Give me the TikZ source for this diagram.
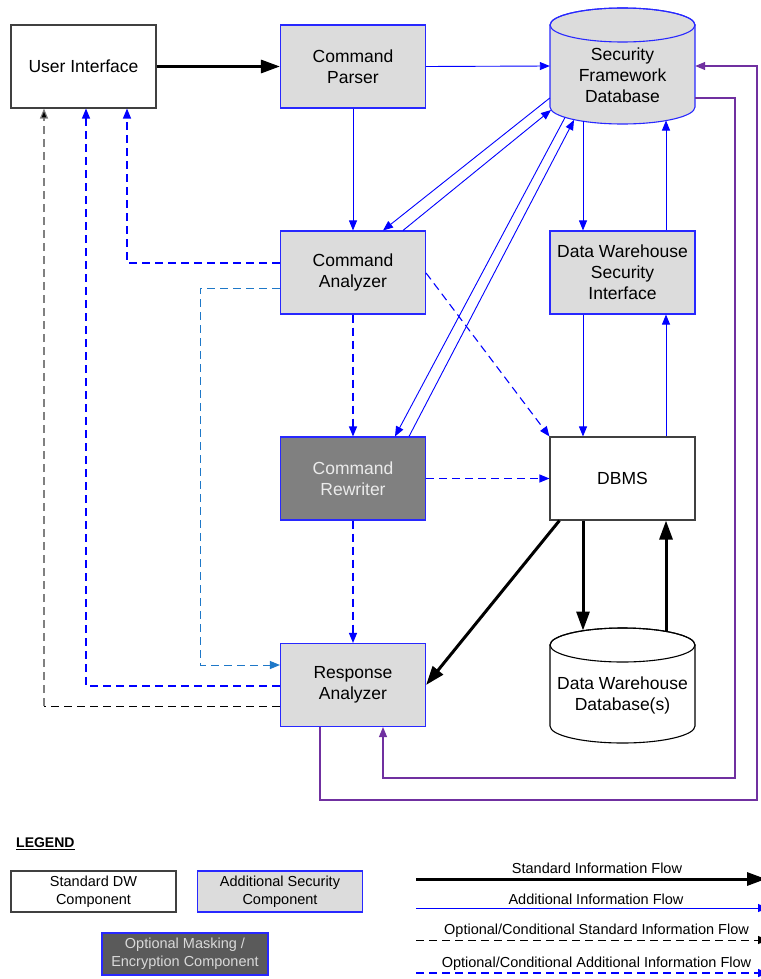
\documentclass[tikz,border=0pt]{standalone}
\usepackage{fontspec}
\setmainfont{Liberation Sans}
\usetikzlibrary{arrows.meta,calc}

\definecolor{boxgray}{RGB}{220,220,220}
\definecolor{rewgray}{RGB}{128,128,128}
\definecolor{maskgray}{RGB}{90,90,90}
\definecolor{edgeblue}{RGB}{40,40,255}
\definecolor{flowblue}{RGB}{0,0,255}
\definecolor{optcyan}{RGB}{30,120,200}
\definecolor{flowpurple}{RGB}{112,48,160}

\begin{document}
\begin{tikzpicture}[x=1pt,y=-1pt,
  comp/.style={draw=black!75, line width=1.1pt, fill=white,
    minimum width=145pt, minimum height=83pt, inner sep=0pt,
    align=center, font=\fontsize{17.5}{21}\selectfont},
  secbox/.style={comp, draw=edgeblue, fill=boxgray},
  maskbox/.style={comp, draw=edgeblue, fill=rewgray, text=white!92!black},
  lgbox/.style={comp, minimum width=165pt, minimum height=41pt,
    font=\fontsize{14.5}{18}\selectfont},
  lbl/.style={inner sep=0pt, font=\fontsize{14.5}{17}\selectfont},
  stdflow/.style={line width=3pt, -{Triangle[length=19pt,width=13pt]}},
  addflow/.style={draw=flowblue, line width=0.9pt, -{Triangle[length=10pt,width=8pt]}},
  optstd/.style={line width=1pt, dash pattern=on 8pt off 5pt, -{Triangle[length=10pt,width=8pt]}},
  optadd/.style={draw=flowblue, line width=1.1pt, dash pattern=on 8pt off 5pt,
    -{Triangle[length=10pt,width=8pt]}},
  purp/.style={draw=flowpurple, line width=1.1pt, -{Triangle[length=10pt,width=8pt]}}
]
\useasboundingbox (0,0) rectangle (760,979);

% ---------- components ----------
\node[comp]    (ui)       at (83.5,66.5)  {User Interface};
\node[secbox]  (parser)   at (353,66.5)   {Command\\Parser};
\node[secbox]  (analyzer) at (353,272.5)  {Command\\Analyzer};
\node[secbox]  (dwsi)     at (622.5,272.5){Data Warehouse\\Security\\Interface};
\node[maskbox] (rewriter) at (353,478.5)  {Command\\Rewriter};
\node[comp]    (dbms)     at (622.5,478.5){DBMS};
\node[secbox]  (resp)     at (353,685)    {Response\\Analyzer};

% security framework database (cylinder)
\filldraw[fill=boxgray, draw=edgeblue, line width=1.1pt]
  (550,25) -- (550,107) arc[start angle=180, end angle=360, x radius=72.5pt, y radius=17pt]
  -- (695,25) arc[start angle=0, end angle=180, x radius=72.5pt, y radius=17pt] -- cycle;
\draw[edgeblue, line width=1.1pt] (622.5,25) ellipse[x radius=72.5pt, y radius=17pt];
\node[minimum width=145pt, minimum height=82pt, inner sep=0pt] (sfd) at (622.5,66) {};
\node[align=center, font=\fontsize{17.5}{21}\selectfont] (sfdtext) at (622.5,75)
  {Security\\Framework\\Database};

% data warehouse database (cylinder)
\filldraw[fill=white, draw=black, line width=1.1pt]
  (550,645) -- (550,726) arc[start angle=180, end angle=360, x radius=72.5pt, y radius=17pt]
  -- (695,645) arc[start angle=0, end angle=180, x radius=72.5pt, y radius=17pt] -- cycle;
\draw[black, line width=1.1pt] (622.5,645) ellipse[x radius=72.5pt, y radius=17pt];
\node[align=center, font=\fontsize{17.5}{21}\selectfont] (dwdb) at (622.5,695)
  {Data Warehouse\\Database(s)};

% points on the cylinder rims
\coordinate (sfdA) at (551,110);
\coordinate (sfdB) at (565,117.5);
\coordinate (sfdC) at (574,120);
\coordinate (sfdD) at (583,121);
\coordinate (sfdE) at (666,120.5);
\coordinate (dwdbA) at (583,630.5);
\coordinate (dwdbB) at (666,631.5);

% ---------- standard flows ----------
\draw[stdflow] (ui.east) -- (parser.west);
\draw[stdflow] ($(dbms.south west)+(10,0)$) -- ($(resp.east)+(0,0)$);
\draw[stdflow] (dbms.south -| sfdD) -- (dwdbA);
\draw[stdflow] (dwdbB) -- (dbms.south -| sfdE);

% ---------- additional flows ----------
\draw[addflow] (parser.east) -- (sfd.west);
\draw[addflow] (parser.south) -- (analyzer.north);
\draw[addflow] ($(sfd.west)+(0,32)$) -- ($(analyzer.north)+(30,0)$);
\draw[addflow] ($(analyzer.north)+(50,0)$) -- (sfdA);
\draw[addflow] (sfdB) -- ($(rewriter.north)+(42,0)$);
\draw[addflow] ($(rewriter.north)+(56,0)$) -- (sfdC);
\draw[addflow] (sfdD) -- (dwsi.north -| sfdD);
\draw[addflow] (dwsi.north -| sfdE) -- (sfdE);
\draw[addflow] (dwsi.south -| sfdD) -- (dbms.north -| sfdD);
\draw[addflow] (dbms.north -| sfdE) -- (dwsi.south -| sfdE);

% ---------- optional flows ----------
\draw[optadd] (analyzer.south) -- (rewriter.north);
\draw[optadd] (rewriter.south) -- (resp.north);
\draw[optadd] (rewriter.east) -- (dbms.west);
\draw[optadd] ($(analyzer.east)+(0,0.5)$) -- (dbms.north west);
\draw[optadd] ($(analyzer.west)+(0,-9.5)$) -| ($(ui.south)+(43.5,0)$);
\draw[optadd, draw=optcyan, line width=1pt,
      -{Triangle[length=10pt,width=8pt,fill=optcyan]}]
  ($(analyzer.west)+(0,15.5)$) -- (200,288) -- (200,665) -- ($(resp.west)+(0,-20)$);
\draw[optadd] ($(resp.west)+(0,1)$) -| ($(ui.south)+(2.5,0)$);
\coordinate (backturn) at (44,706);
\draw[line width=1pt, dash pattern=on 8pt off 5pt] ($(resp.west)+(0,21)$) -- (backturn);
\draw[optstd, draw=black!50, line width=1.1pt, -{Triangle[length=10pt,width=8pt,fill=black]}]
  (backturn) -- ($(ui.south)+(-39.5,0)$);

% ---------- feedback loops ----------
\draw[purp] ($(sfd.east)+(0,32)$) -- (735,98) -- (735,778) -- (383,778)
  -- ($(resp.south)+(30,0)$);
\draw[purp] ($(resp.south)+(-33,0)$) -- (320,800) -- (757,800) -- (757,66) -- (sfd.east);

% ---------- legend ----------
\node[anchor=west, inner sep=0pt, font=\bfseries\fontsize{14}{16}\selectfont]
  (legend) at (16,844) {\underline{LEGEND}};
\node[lgbox] (lgstd) at (93.5,891.5) {Standard DW\\Component};
\node[lgbox, draw=edgeblue, fill=boxgray] (lgsec) at (280,891.5) {Additional Security\\Component};
\node[lgbox, draw=edgeblue, fill=maskgray, text=white!85!black, minimum width=166pt,
  minimum height=42pt] (lgmask) at (185,954) {Optional Masking /\\Encryption Component};

\coordinate (l1s) at (416,879); \coordinate (l1e) at (766,879);
\coordinate (l2s) at (416,908); \coordinate (l2e) at (768,908);
\coordinate (l3s) at (416,940); \coordinate (l3e) at (768,940);
\coordinate (l4s) at (416,973); \coordinate (l4e) at (768,973);
\draw[stdflow] (l1s) -- (l1e);
\draw[addflow] (l2s) -- (l2e);
\draw[optstd] (l3s) -- (l3e);
\draw[optadd] (l4s) -- (l4e);
\node[lbl] (t1) at (597,868) {Standard Information Flow};
\node[lbl] (t2) at (596,899) {Additional Information Flow};
\node[lbl] (t3) at (596.5,931) {Optional/Conditional Standard Information Flow};
\node[lbl] (t4) at (596.5,964) {Optional/Conditional Additional Information Flow};
\end{tikzpicture}
\end{document}
